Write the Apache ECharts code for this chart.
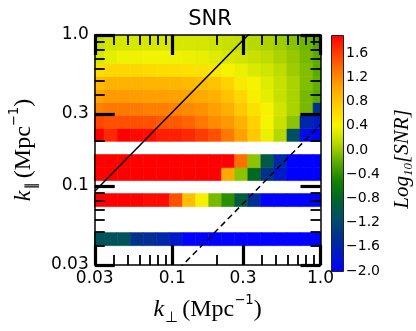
<!DOCTYPE html>
<html><head><meta charset="utf-8">
<script src="https://cdn.jsdelivr.net/npm/echarts@6/dist/echarts.min.js"></script>
<style>html,body{margin:0;padding:0;background:#fff}#c{width:416px;height:331px}</style>
</head><body><div id="c"></div>
<script>
// ---- data ----
// bin centres (Mpc^-1)
const kPerp = [0.0313, 0.0384, 0.0471, 0.0576, 0.0706, 0.0865, 0.106, 0.130, 0.159,
               0.195, 0.238, 0.292, 0.358, 0.438, 0.537, 0.657, 0.805, 0.986];
const kPar  = [0.0365, 0.0445, 0.0543, 0.0662, 0.0807, 0.0984, 0.120, 0.146, 0.179,
               0.218, 0.266, 0.324, 0.395, 0.482, 0.587, 0.716, 0.874, 1.065];
// log10 SNR, one row per kPar bin (bottom to top); null = no data
const snrRow0  = null;
const snrRow1  = [-1.05,-1.05,-1.05,-1.4,-1.45,-1.55,-1.7,-2,-2,-2,-2,-2,-2,-2,-2,-2,-2,-2];
const snrRow2  = null;
const snrRow3  = null;
const snrRow4  = [1.9,1.9,1.9,1.9,1.85,1.85,1.5,0.85,0.45,-0.1,-0.4,-0.9,-1.45,-2,-2,-2,-2,-2];
const snrRow5  = null;
const snrRow6  = [1.9,1.9,1.9,1.9,1.9,1.9,1.9,1.9,1.9,1.9,1.0,-0.03,-0.75,-1.4,-1.7,-2,-2,-2];
const snrRow7  = [1.9,1.9,1.9,1.9,1.9,1.9,1.9,1.9,1.9,1.9,1.9,1.35,-0.03,-0.95,-1.55,-2,-2,-2];
const snrRow8  = null;
const snrRow9  = [1.9,1.7,1.9,1.85,1.85,1.75,1.75,1.7,1.6,1.5,1.3,1.05,0.77,0.35,0.1,-1.1,-1.85,-2];
const snrRow10 = [1.55,1.5,1.5,1.5,1.49,1.46,1.45,1.4,1.3,1.18,1.1,0.95,0.7,0.4,0.2,-0.03,-1.55,-1.7];
const snrRow11 = [1.24,1.3,1.3,1.29,1.26,1.25,1.24,1.2,1.15,1.06,0.96,0.77,0.57,0.42,0.24,0.07,-0.1,-1.4];
const snrRow12 = [1.03,1.09,1.09,1.08,1.06,1.06,1.05,1.03,1.0,0.93,0.81,0.66,0.44,0.33,0.19,0.07,-0.1,-0.2];
const snrRow13 = [0.89,0.93,0.93,0.93,0.92,0.92,0.91,0.89,0.86,0.81,0.7,0.49,0.42,0.3,0.19,0.07,-0.07,-0.17];
const snrRow14 = [0.6,0.66,0.66,0.65,0.62,0.61,0.6,0.58,0.56,0.52,0.42,0.35,0.28,0.24,0.15,0.03,-0.07,-0.2];
const snrRow15 = [0.26,0.33,0.37,0.37,0.38,0.38,0.37,0.36,0.34,0.3,0.26,0.24,0.19,0.15,0.07,0.0,-0.1,-0.2];
const snrRow16 = [0.19,0.24,0.26,0.26,0.26,0.26,0.26,0.26,0.25,0.22,0.19,0.17,0.12,0.08,0.03,-0.04,-0.13,-0.23];
const snrRow17 = [0.12,0.2,0.24,0.24,0.24,0.24,0.24,0.24,0.24,0.2,0.17,0.15,0.1,0.06,0.0,-0.06,-0.15,-0.25];
const snrRows = [snrRow0,snrRow1,snrRow2,snrRow3,snrRow4,snrRow5,snrRow6,snrRow7,snrRow8,
                 snrRow9,snrRow10,snrRow11,snrRow12,snrRow13,snrRow14,snrRow15,snrRow16,snrRow17];

const axisRange = [0.03, 1.0];
const majorTicks = [0.03, 0.1, 0.3, 1.0];
const tickLabels = ['0.03', '0.1', '0.3', '1.0'];
const minorTicks = [0.04,0.05,0.06,0.07,0.08,0.09,0.2,0.4,0.5,0.6,0.7,0.8,0.9];
const cbarRange = [-2.0, 1.9];
const cbarTicks = [-2.0,-1.6,-1.2,-0.8,-0.4,0.0,0.4,0.8,1.2,1.6];
const solidSlope = 3.08;   // k_par = slope * k_perp
const dashedSlope = 0.255;
const cmap = ['#0000ff','#0019c8','#00328c','#005064','#006428','#148200','#5aaa00',
              '#b4d700','#f5f500','#ffd200','#ffaa00','#ff7800','#ff3c00','#ff0000'];

// ---- build ----
const L = Math.log10;
function edges(arr, i) {
  const l = arr.map(L), n = l.length;
  const lo = i > 0 ? (l[i-1] + l[i]) / 2 : l[i] - (l[i+1] - l[i]) / 2;
  const hi = i < n-1 ? (l[i] + l[i+1]) / 2 : l[i] + (l[i] - l[i-1]) / 2;
  return [lo, hi];
}
const cells = [];
snrRows.forEach((row, iy) => {
  if (!row) return;
  row.forEach((v, ix) => { if (v != null) cells.push([L(kPerp[ix]), L(kPar[iy]), v, ix, iy]); });
});
const solidData = axisRange.map(x => [L(x), L(x * solidSlope)]);
const dashedData = axisRange.map(x => [L(x), L(x * dashedSlope)]);

const majorLog = majorTicks.map(L), minorLog = minorTicks.map(L);
function lab(v) {
  let best = 0;
  majorLog.forEach((m, i) => { if (Math.abs(m - v) < Math.abs(majorLog[best] - v)) best = i; });
  return tickLabels[best];
}
const serif = 'Liberation Serif';
function nameRich(fs) {
  return {
    k: {fontFamily: serif, fontStyle: 'italic', fontSize: fs, color: '#000', lineHeight: fs + 8},
    s: {fontFamily: 'DejaVu Sans', fontSize: fs * 0.62, color: '#000', verticalAlign: 'bottom', lineHeight: fs * 0.62, padding: [0, 4, 0, 1]},
    t: {fontFamily: serif, fontSize: fs, color: '#000', lineHeight: fs + 8},
    p: {fontFamily: 'DejaVu Sans', fontSize: fs * 0.55, color: '#000', verticalAlign: 'top', lineHeight: fs * 0.55 + 2}
  };
}
function mkAxis(pos, major, extra) {
  return Object.assign({
    type: 'value', gridIndex: 0, position: pos, z: 10, min: L(axisRange[0]), max: L(axisRange[1]),
    axisLine: {show: major, onZero: false, lineStyle: {color: '#000', width: 1.5}},
    axisTick: {show: true, inside: true, length: major ? 20 : 10,
               customValues: major ? majorLog : minorLog,
               lineStyle: {color: '#000', width: major ? 3.2 : 1.8}},
    axisLabel: {show: false},
    splitLine: {show: false}
  }, extra || {});
}
const tickLabelStyle = {show: true, customValues: majorLog, formatter: lab, color: '#000',
                        fontFamily: 'DejaVu Sans', fontSize: 17};

const chart = echarts.init(document.getElementById('c'), null, {renderer: 'canvas'});
chart.setOption({
  animation: false,
  backgroundColor: '#fff',
  title: {text: 'SNR', left: 205, top: 4, textAlign: 'center',
          textStyle: {fontFamily: 'DejaVu Sans', fontSize: 21, fontWeight: 'normal', color: '#000'}},
  grid: [
    {left: 87, top: 35, right: 95.5, bottom: 60.5},
    {left: 331, top: 35, width: 12, bottom: 60}
  ],
  visualMap: {show: false, type: 'continuous', min: cbarRange[0], max: cbarRange[1], dimension: 2,
              seriesIndex: 0, inRange: {color: cmap}},
  xAxis: [
    mkAxis('bottom', true, {axisLabel: Object.assign({margin: 5}, tickLabelStyle),
      name: '{k|k}{s|⊥}{t|(Mpc}{p|−1}{t|)}', nameLocation: 'middle', nameGap: 29,
      nameTextStyle: {rich: nameRich(24)}}),
    mkAxis('bottom', false),
    mkAxis('top', true),
    mkAxis('top', false),
    {type: 'value', gridIndex: 1, show: false, min: 0, max: 1}
  ],
  yAxis: [
    mkAxis('left', true, {axisLabel: Object.assign({margin: 6}, tickLabelStyle),
      name: '{k|k}{s|∥}{t|(Mpc}{p|−1}{t|)}', nameLocation: 'middle', nameGap: 50, nameRotate: 90,
      nameTextStyle: {rich: nameRich(24)}}),
    mkAxis('left', false),
    mkAxis('right', true),
    mkAxis('right', false),
    {type: 'value', gridIndex: 1, position: 'right', min: cbarRange[0], max: cbarRange[1],
     axisLine: {show: false}, axisTick: {show: false}, splitLine: {show: false},
     axisLabel: {customValues: cbarTicks, margin: 4, color: '#000', fontFamily: 'DejaVu Sans', fontSize: 14,
                 formatter: v => v.toFixed(1).replace('-', '−')},
     name: '{i|Log}{s|10}{i|[SNR]}', nameLocation: 'middle', nameRotate: 90, nameGap: 47,
     nameTextStyle: {padding: [0, 12, 0, 0], rich: {
       i: {fontFamily: serif, fontStyle: 'italic', fontSize: 21, color: '#000', lineHeight: 26},
       s: {fontFamily: serif, fontStyle: 'italic', fontSize: 13, color: '#000', verticalAlign: 'bottom', lineHeight: 13}
     }}}
  ],
  graphic: [{
    type: 'rect', left: 331, top: 35, z: 10,
    shape: {width: 12, height: 236},
    style: {fill: new echarts.graphic.LinearGradient(0, 1, 0, 0,
              cmap.map((c, i) => ({offset: i / (cmap.length - 1), color: c}))),
            stroke: '#222', lineWidth: 1}
  }],
  series: [
    {type: 'custom', xAxisIndex: 0, yAxisIndex: 0, clip: true, silent: true, z: 1,
     encode: {x: 0, y: 1},
     data: cells,
     renderItem: function (params, api) {
       const ix = api.value(3), iy = api.value(4);
       const ex = edges(kPerp, ix), ey = edges(kPar, iy);
       const p0 = api.coord([ex[0], ey[1]]), p1 = api.coord([ex[1], ey[0]]);
       const col = api.visual('color');
       return {type: 'rect', shape: {x: p0[0], y: p0[1], width: p1[0] - p0[0], height: p1[1] - p0[1]},
               style: {fill: col, stroke: col, lineWidth: 0.6}};
     }},
    {type: 'line', xAxisIndex: 0, yAxisIndex: 0, data: solidData, showSymbol: false, clip: true, silent: true,
     lineStyle: {color: '#000', width: 1.5}, z: 5},
    {type: 'line', xAxisIndex: 0, yAxisIndex: 0, data: dashedData, showSymbol: false, clip: true, silent: true,
     lineStyle: {color: '#000', width: 1.5, type: [6, 4]}, z: 5}
  ]
});
</script></body></html>
